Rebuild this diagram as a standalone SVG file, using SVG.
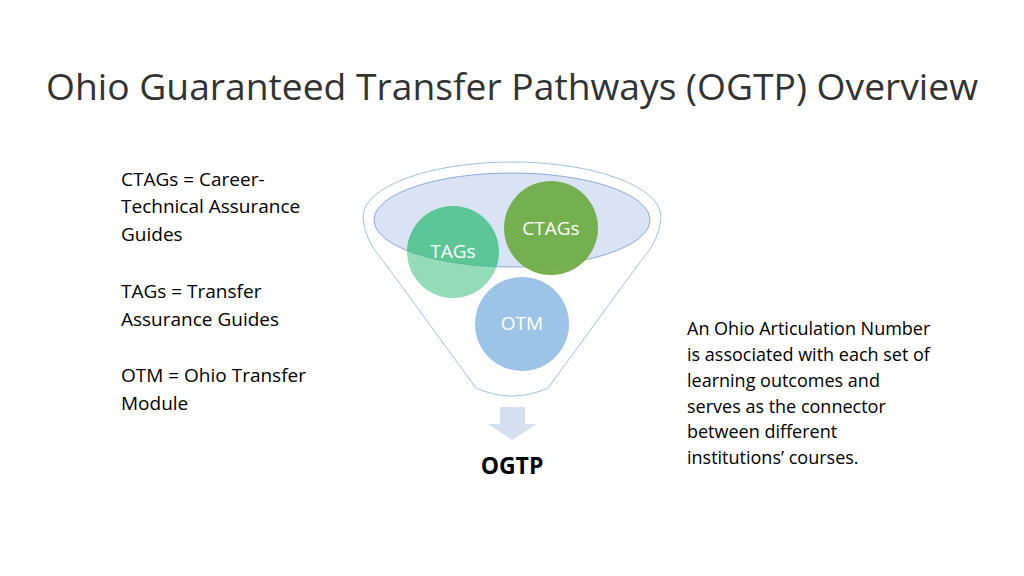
<svg xmlns="http://www.w3.org/2000/svg" width="1024" height="576" viewBox="0 0 1024 576">
<style>
text{font-family:"Open Sans","Liberation Sans",sans-serif;}
.t{font-size:19px;fill:#000}
.c{font-size:19px;fill:#fff;text-anchor:middle}
</style>
<rect width="1024" height="576" fill="#fff"/>
<text x="512" y="100" text-anchor="middle" font-size="37" fill="#333" textLength="932" lengthAdjust="spacingAndGlyphs">Ohio Guaranteed Transfer Pathways (OGTP) Overview</text>
<g id="legend" class="t">
<text x="121" y="186">CTAGs = Career-</text>
<text x="121" y="213">Technical Assurance</text>
<text x="121" y="241">Guides</text>
<text x="121" y="298">TAGs = Transfer</text>
<text x="121" y="326">Assurance Guides</text>
<text x="121" y="382">OTM = Ohio Transfer</text>
<text x="121" y="410">Module</text>
</g>
<g id="note" font-size="18">
<text x="687" y="335">An Ohio Articulation Number</text>
<text x="687" y="361">is associated with each set of</text>
<text x="687" y="387">learning outcomes and</text>
<text x="687" y="413">serves as the connector</text>
<text x="687" y="438">between different</text>
<text x="687" y="464">institutions’ courses.</text>
</g>
<g id="funnel">
<path d="M363,217 A149,55 0 0 1 661,217 Q660,240 640,262 L548,388 Q512,404 476,388 L384,262 Q364,240 363,217 Z" fill="#fff" stroke="#9dc3e6" stroke-width="1"/>
<ellipse cx="512" cy="220" rx="138" ry="47" fill="#dae3f3" stroke="#8faadc" stroke-width="1"/>
</g>
<g id="tags"><circle cx="453" cy="252" r="46" fill="#3dbf80" fill-opacity="0.55"/>
<path d="M407,252 A46,46 0 0 1 499,252 L499,256 Q453,264 407,249 Z" fill="#3dbf80" opacity="0"/>
</g>
<g id="ctags"><circle cx="551" cy="228" r="47" fill="#70ad47" fill-opacity="0.95"/><text class="c" x="551" y="235">CTAGs</text></g>
<g id="tags2"><circle cx="453" cy="252" r="46" fill="#3dbf80" fill-opacity="0.55" clip-path="url(#ell)"/><text class="c" x="453" y="258">TAGs</text></g>
<defs><clipPath id="ell"><ellipse cx="512" cy="220" rx="138" ry="47"/></clipPath></defs>
<g id="otm"><circle cx="522" cy="324" r="47" fill="#9dc3e6"/><text class="c" x="522" y="330">OTM</text></g>
<g id="connectors"><path d="M500,407 H525 V424 H537 L512,440 L488,424 H500 Z" fill="#d6e0f0"/></g>
<g id="ogtp"><text x="512" y="474" text-anchor="middle" font-size="23" font-weight="bold">OGTP</text></g>
</svg>
